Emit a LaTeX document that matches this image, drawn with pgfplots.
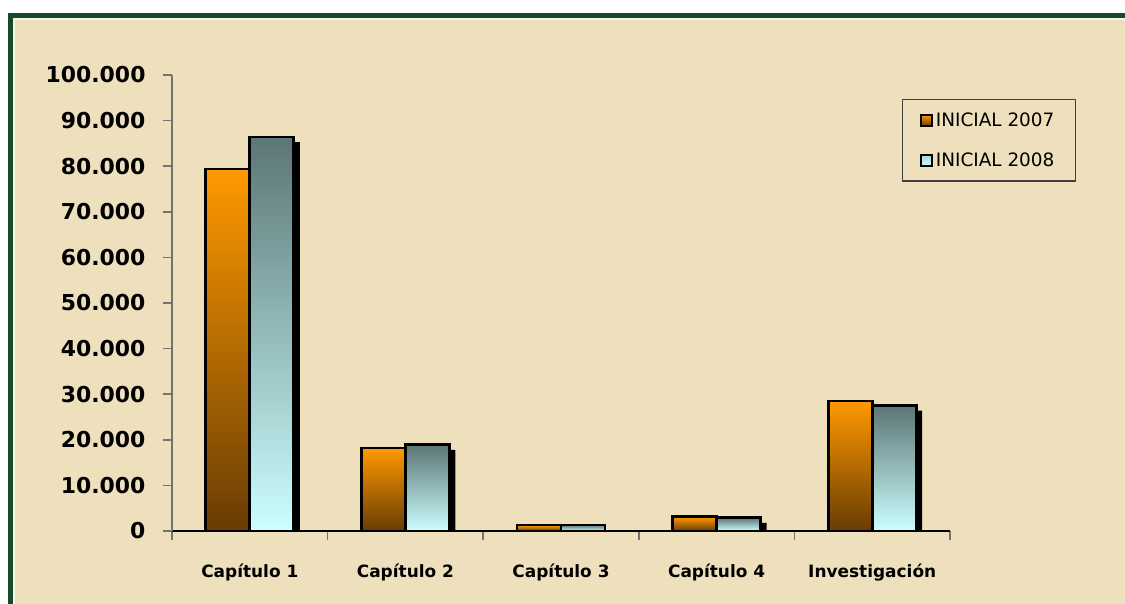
\documentclass[border=0pt]{standalone}
\usepackage{fontspec}
\setmainfont{DejaVu Sans}
\usepackage{pgfplots}
\pgfplotsset{compat=1.18}

\definecolor{frame}{RGB}{22,74,42}
\definecolor{paper}{RGB}{239,224,189}
\definecolor{orangetop}{RGB}{255,153,0}
\definecolor{orangebot}{RGB}{104,60,4}
\definecolor{cyantop}{RGB}{92,118,118}
\definecolor{cyanbot}{RGB}{204,255,255}

\pgfplotstableread{
x  y2007  y2008
0  79400  86400
1  18200  18900
2  1300   1300
3  3100   2900
4  28500  27500
}\presupuesto

\pgfplotsset{
  b07/.style={ybar, bar shift=-22bp, draw=black, line width=2.8bp,
    top color=orangetop, bottom color=orangebot},
  b08/.style={ybar, bar shift=22bp, draw=black, line width=2.8bp,
    top color=cyantop, bottom color=cyanbot},
}

\begin{document}
\begin{tikzpicture}[x=1bp,y=1bp]
\useasboundingbox (0,0) rectangle (1125,604);
\begin{scope}
  \clip (0,0) rectangle (1125,604);
  \fill[white] (0,0) rectangle (1125,604);
  \fill[paper] (10.5,-20) rectangle (1145,588.5);
  \draw[white!60!paper, line width=1.5bp] (14,-20) rectangle (1145,585);
  \draw[frame, line width=5bp] (10.5,-20) rectangle (1145,588.5);
\end{scope}

\begin{axis}[
    at={(172bp,73bp)}, anchor=south west,
    scale only axis, width=778bp, height=456bp,
    xmin=-0.5, xmax=4.5, ymin=0, ymax=100000,
    axis x line*=bottom, axis y line*=left,
    x axis line style={black, line width=2.4bp, -},
    y axis line style={black!55, line width=1.5bp, -},
    tick align=outside, major tick length=9bp,
    every tick/.style={black!55, line width=1.5bp},
    xtick={-0.5,0.5,...,4.5}, xticklabels={},
    extra x ticks={0,1,2,3,4},
    extra x tick labels={Capítulo 1, Capítulo 2, Capítulo 3, Capítulo 4, Investigación},
    extra x tick style={major tick length=0bp,
      tick label style={font=\bfseries\fontsize{17}{17}\selectfont, yshift=-29bp}},
    ytick distance=10000,
    scaled y ticks=false,
    /pgf/number format/.cd, fixed, precision=0, 1000 sep={.}, assume math mode=true,
    /pgfplots/.cd,
    yticklabel style={font=\bfseries\fontsize{22}{22}\selectfont, xshift=-14bp},
    legend style={at={(1.162,0.947)}, anchor=north east,
      fill=paper, draw=black!75, line width=1.2bp,
      font=\fontsize{18.5}{18.5}\selectfont, row sep=21bp,
      inner xsep=18bp, inner ysep=11bp,
      nodes={inner xsep=3bp}},
    legend cell align=left,
    bar width=44bp,
  ]
  % shadows
  \addplot[ybar, bar shift=-16bp, yshift=-5bp, fill=black, draw=none, forget plot]
    table[x=x, y=y2007] {\presupuesto};
  \addplot[ybar, bar shift=28bp, yshift=-5bp, fill=black, draw=none, forget plot]
    table[x=x, y=y2008] {\presupuesto};
  % bars, one plot each so that every bar gets its own gradient
  \addplot[b07,
    legend image code/.code={\draw[black, line width=1.5bp, top color=orangetop, bottom color=orangebot] (0bp,-5.5bp) rectangle (11bp,5.5bp);}]
    coordinates {(0,79400)};
  \addplot[b08,
    legend image code/.code={\draw[black, line width=1.5bp, top color=cyanbot!70!cyantop, bottom color=cyanbot] (0bp,-5.5bp) rectangle (11bp,5.5bp);}]
    coordinates {(0,86400)};
  \addplot[b07, forget plot] coordinates {(1,18200)};
  \addplot[b08, forget plot] coordinates {(1,18900)};
  \addplot[b07, forget plot] coordinates {(2,1300)};
  \addplot[b08, forget plot] coordinates {(2,1300)};
  \addplot[b07, forget plot] coordinates {(3,3100)};
  \addplot[b08, forget plot] coordinates {(3,2900)};
  \addplot[b07, forget plot] coordinates {(4,28500)};
  \addplot[b08, forget plot] coordinates {(4,27500)};
  \legend{INICIAL 2007, INICIAL 2008}
\end{axis}
\end{tikzpicture}
\end{document}
